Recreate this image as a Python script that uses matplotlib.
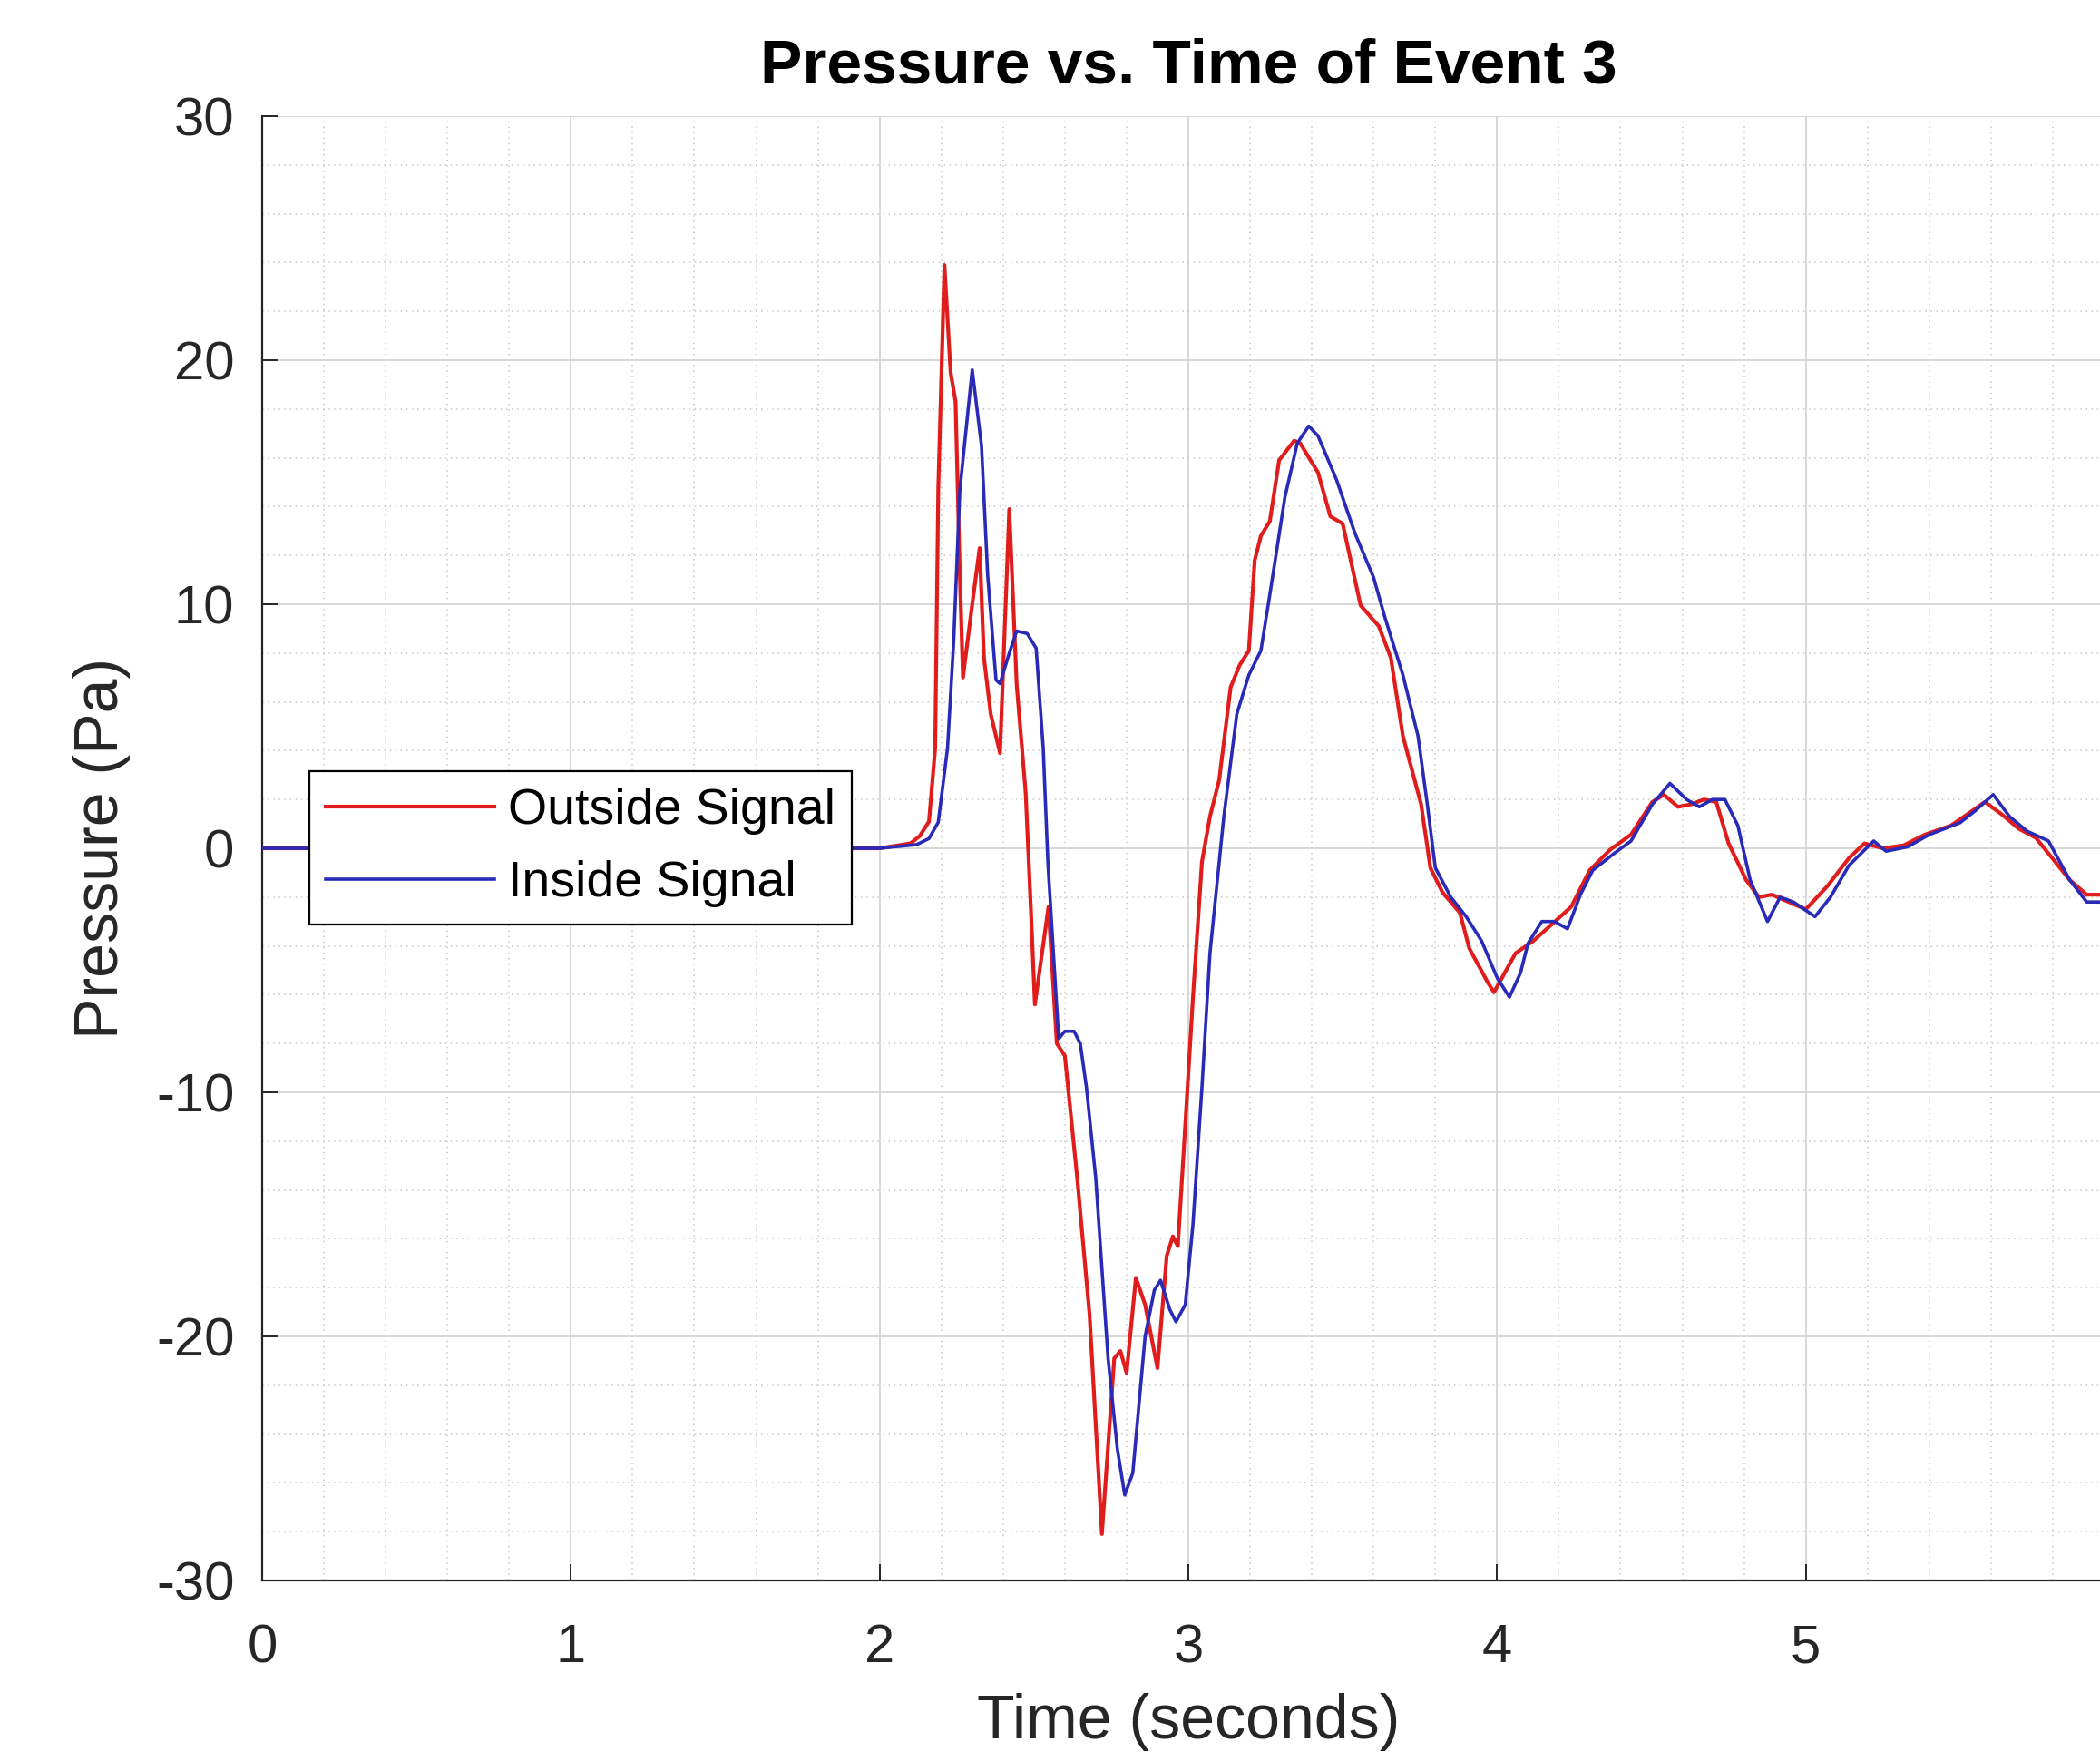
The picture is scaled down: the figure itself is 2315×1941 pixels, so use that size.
import matplotlib
matplotlib.use("Agg")
import matplotlib.pyplot as plt
from matplotlib.ticker import MultipleLocator

# ---------------- data ----------------
outside_t = [0.0, 2.0, 2.10, 2.13, 2.16, 2.18, 2.19, 2.21, 2.23, 2.246,
             2.26, 2.27, 2.30, 2.324, 2.338, 2.36, 2.39, 2.42, 2.444, 2.473,
             2.49, 2.503, 2.547, 2.574, 2.60, 2.64, 2.68, 2.72, 2.76, 2.78,
             2.80, 2.83, 2.86, 2.90, 2.93, 2.95, 2.966, 2.985, 3.015, 3.044,
             3.07, 3.10, 3.137, 3.166, 3.196, 3.215, 3.235, 3.264, 3.294, 3.343,
             3.362, 3.42, 3.46, 3.50, 3.558, 3.617, 3.656, 3.695, 3.754, 3.784,
             3.823, 3.88, 3.91, 3.97, 3.99, 4.06, 4.117, 4.17, 4.24, 4.30,
             4.366, 4.434, 4.503, 4.54, 4.586, 4.628, 4.67, 4.71, 4.75, 4.807,
             4.848, 4.89, 4.945, 5.0, 5.07, 5.14, 5.19, 5.25, 5.317, 5.386,
             5.47, 5.524, 5.58, 5.634, 5.69, 5.745, 5.80, 5.855, 5.91, 5.95,
             6.0]
outside_p = [0.0, 0.0, 0.2, 0.5, 1.1, 4.1, 14.7, 23.9, 19.5, 18.3,
             11.2, 7.0, 10.0, 12.3, 7.8, 5.5, 3.9, 13.9, 6.7, 2.3,
             -2.5, -6.4, -2.4, -8.0, -8.5, -13.5, -19.1, -28.1, -20.9, -20.6,
             -21.5, -17.6, -18.7, -21.3, -16.7, -15.9, -16.3, -12.4, -6.1, -0.56,
             1.3, 2.8, 6.6, 7.5, 8.1, 11.8, 12.8, 13.4, 15.9, 16.7,
             16.6, 15.4, 13.6, 13.3, 9.95, 9.1, 7.8, 4.6, 1.8, -0.8,
             -1.8, -2.65, -4.1, -5.5, -5.9, -4.3, -3.8, -3.2, -2.4, -0.9,
             -0.06, 0.56, 1.9, 2.2, 1.7, 1.8, 2.0, 1.9, 0.2, -1.3,
             -2.0, -1.9, -2.2, -2.5, -1.55, -0.4, 0.2, 0.0, 0.12, 0.56,
             0.93, 1.4, 1.9, 1.4, 0.8, 0.43, -0.43, -1.3, -1.9, -1.9,
             -2.0]

inside_t = [0.0, 2.0, 2.12, 2.16, 2.19, 2.22, 2.24, 2.26, 2.30, 2.33,
            2.35, 2.377, 2.39, 2.42, 2.444, 2.478, 2.507, 2.53, 2.545, 2.58,
            2.60, 2.63, 2.65, 2.67, 2.70, 2.74, 2.77, 2.794, 2.82, 2.86,
            2.89, 2.91, 2.94, 2.96, 2.99, 3.015, 3.044, 3.07, 3.10, 3.115,
            3.157, 3.196, 3.235, 3.264, 3.313, 3.353, 3.39, 3.42, 3.48, 3.54,
            3.60, 3.637, 3.695, 3.744, 3.774, 3.80, 3.85, 3.90, 3.95, 4.0,
            4.04, 4.076, 4.10, 4.145, 4.186, 4.228, 4.27, 4.31, 4.38, 4.434,
            4.503, 4.56, 4.614, 4.655, 4.697, 4.738, 4.78, 4.82, 4.876, 4.917,
            4.96, 5.03, 5.08, 5.14, 5.22, 5.26, 5.33, 5.40, 5.50, 5.55,
            5.607, 5.66, 5.717, 5.786, 5.855, 5.91, 5.95, 6.0]
inside_p = [0.0, 0.0, 0.15, 0.4, 1.07, 4.1, 8.5, 14.7, 19.6, 16.5,
            11.2, 6.9, 6.75, 8.0, 8.9, 8.8, 8.2, 4.1, -0.56, -7.8,
            -7.5, -7.5, -8.0, -9.8, -13.5, -20.9, -24.6, -26.5, -25.6, -20.0,
            -18.1, -17.7, -18.9, -19.4, -18.7, -15.4, -9.8, -4.3, -0.56, 1.3,
            5.5, 7.1, 8.1, 10.4, 14.4, 16.6, 17.3, 16.9, 15.1, 12.9,
            11.1, 9.45, 7.1, 4.6, 1.8, -0.8, -2.0, -2.8, -3.8, -5.3,
            -6.1, -5.1, -3.9, -3.0, -3.0, -3.3, -1.9, -0.9, -0.2, 0.3,
            1.8, 2.66, 2.0, 1.7, 2.0, 2.0, 0.93, -1.3, -3.0, -2.0,
            -2.2, -2.8, -2.0, -0.7, 0.3, -0.12, 0.06, 0.56, 1.05, 1.55,
            2.2, 1.3, 0.7, 0.3, -1.3, -2.2, -2.2, -2.3]

series_labels = ["Outside Signal", "Inside Signal"]
x_ticks = [0, 1, 2, 3, 4, 5, 6]
y_ticks = [-30, -20, -10, 0, 10, 20, 30]

# ---------------- style ----------------
plt.rcParams['font.family'] = ['Liberation Sans', 'DejaVu Sans']
plt.rcParams['axes.unicode_minus'] = False
TXT = '#262626'

fig = plt.figure(figsize=(23.15, 19.41), dpi=100)
ax = fig.add_axes([289 / 2315, 199 / 1941, 2042 / 2315, 1614 / 1941])

ax.plot(outside_t, outside_p, color='#e01c1c', lw=3.0, label=series_labels[0],
        zorder=3, solid_joinstyle='round')
ax.plot(inside_t, inside_p, color='#2a2ab8', lw=2.6, label=series_labels[1],
        zorder=4, solid_joinstyle='round')

ax.set_xlim(0, 6)
ax.set_ylim(-30, 30)
ax.set_xticks(x_ticks)
ax.set_yticks(y_ticks)
ax.xaxis.set_minor_locator(MultipleLocator(0.2))
ax.yaxis.set_minor_locator(MultipleLocator(2))

ax.set_axisbelow(True)
ax.grid(which='major', color='#d4d4d4', lw=1.3, ls='-')
ax.grid(which='minor', color='#c8c8c8', lw=1.1, ls=(0, (1, 3)))

for s in ['top', 'right']:
    ax.spines[s].set_visible(False)
for s in ['left', 'bottom']:
    ax.spines[s].set_color(TXT)
    ax.spines[s].set_linewidth(1.6)

ax.tick_params(which='major', direction='in', length=13, width=1.4, color=TXT,
               labelsize=43, labelcolor=TXT)
ax.tick_params(axis='x', pad=34)
ax.tick_params(axis='y', pad=22)
ax.tick_params(which='minor', length=0)

ax.set_title('Pressure vs. Time of Event 3', fontsize=50, fontweight='bold',
             color='black', pad=26)
ax.set_xlabel('Time (seconds)', fontsize=49, color=TXT)
ax.set_ylabel('Pressure (Pa)', fontsize=49, color=TXT)
ax.xaxis.set_label_coords(0.5, -0.077)
ax.yaxis.set_label_coords(-0.071, 0.5)

leg = ax.legend(loc='upper left', bbox_to_anchor=(0.0253, 0.5526), borderaxespad=0,
                fontsize=40, handlelength=3.35, handletextpad=0.27, labelspacing=0.5,
                borderpad=0.33, fancybox=False, framealpha=1, edgecolor='black')
leg.get_frame().set_linewidth(1.6)
for t in leg.get_texts():
    t.set_color('black')

fig.savefig('out.png', dpi=100)
